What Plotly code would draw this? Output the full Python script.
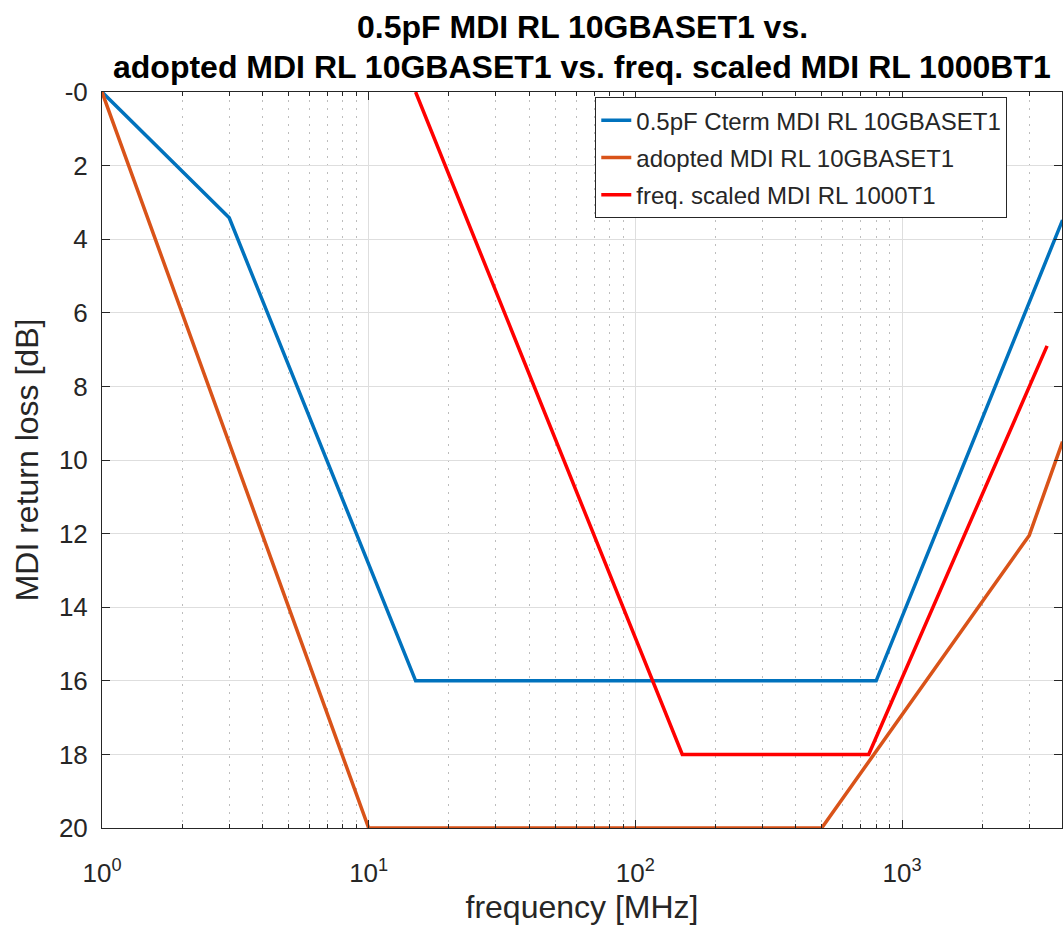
import plotly.graph_objects as go

# Data
blue_f = [1, 2, 3, 15, 800, 4000]
blue_rl = [0, 2.17, 3.42, 16, 16, 3.48]

orange_f = [1, 10, 500, 3000, 4000]
orange_rl = [0, 20, 20, 12.05, 9.5]

red_f = [15, 150, 750, 3500]
red_rl = [0, 18, 18, 6.9]

names = ["0.5pF Cterm MDI RL 10GBASET1", "adopted MDI RL 10GBASET1", "freq. scaled MDI RL 1000T1"]
colors = ["#0072BD", "#D95319", "#FF0000"]

y_ticks = [0, 2, 4, 6, 8, 10, 12, 14, 16, 18, 20]
y_ticktext = ["-0", "2", "4", "6", "8", "10", "12", "14", "16", "18", "20"]
x_ticks = [1, 10, 100, 1000]
x_ticktext = ["10<sup>0</sup>", "10<sup>1</sup>", "10<sup>2</sup>", "10<sup>3</sup>"]

title_lines = ["0.5pF MDI RL 10GBASET1 vs.",
               "adopted MDI RL 10GBASET1 vs. freq. scaled MDI RL 1000BT1"]

FONT = "Liberation Sans, Arial, Helvetica, sans-serif"
TXT = "#262626"

fig = go.Figure()
for i, (f, rl, n, c) in enumerate(zip([blue_f, orange_f, red_f], [blue_rl, orange_rl, red_rl], names, colors)):
    fig.add_trace(go.Scatter(x=f, y=rl, mode="lines", name=n, legendgroup=f"g{i}",
                             line=dict(color=c, width=3.5)))

axis_common = dict(
    showline=True, linecolor=TXT, linewidth=1, mirror="ticks",
    ticks="inside", tickcolor=TXT, ticklen=8,
    showgrid=True, gridcolor="#DEDEDE", gridwidth=1,
    zeroline=False,
    tickfont=dict(family=FONT, size=26, color=TXT),
)

fig.update_xaxes(
    type="log", range=[0, 3.6],
    tickvals=x_ticks, ticktext=x_ticktext, ticklabelstandoff=22,
    title=dict(text="frequency [MHz]", font=dict(family=FONT, size=32, color=TXT), standoff=8),
    minor=dict(dtick="D1", ticks="inside", ticklen=4, tickcolor=TXT,
               showgrid=True, gridcolor="#BDBDBD", griddash="2px,6px", gridwidth=1),
    **axis_common,
)
fig.update_yaxes(
    range=[20, 0],
    tickvals=y_ticks, ticktext=y_ticktext, ticklabelstandoff=8,
    title=dict(text="MDI return loss [dB]", font=dict(family=FONT, size=32, color=TXT), standoff=10),
    **axis_common,
)

fig.add_annotation(text=f"<b>{title_lines[0]}</b>", xref="paper", yref="paper",
                   x=0.5, y=1.0883, xanchor="center", yanchor="middle", showarrow=False,
                   font=dict(family=FONT, size=32, color="black"))
fig.add_annotation(text=f"<b>{title_lines[1]}</b>", xref="paper", yref="paper",
                   x=0.5, y=1.034, xanchor="center", yanchor="middle", showarrow=False,
                   font=dict(family=FONT, size=32, color="black"))

fig.update_layout(
    width=1064, height=928,
    margin=dict(l=102, r=2, t=92, b=100),
    plot_bgcolor="white", paper_bgcolor="white",
    legend=dict(x=0.943, xanchor="right", y=0.993, yanchor="top",
                bgcolor="white", bordercolor=TXT, borderwidth=1,
                font=dict(family=FONT, size=24, color=TXT),
                tracegroupgap=3),
    showlegend=True,
)

fig.write_html("out.html", config={"displayModeBar": False},
               post_script="document.body.style.margin='0';document.body.style.overflow='hidden';")
